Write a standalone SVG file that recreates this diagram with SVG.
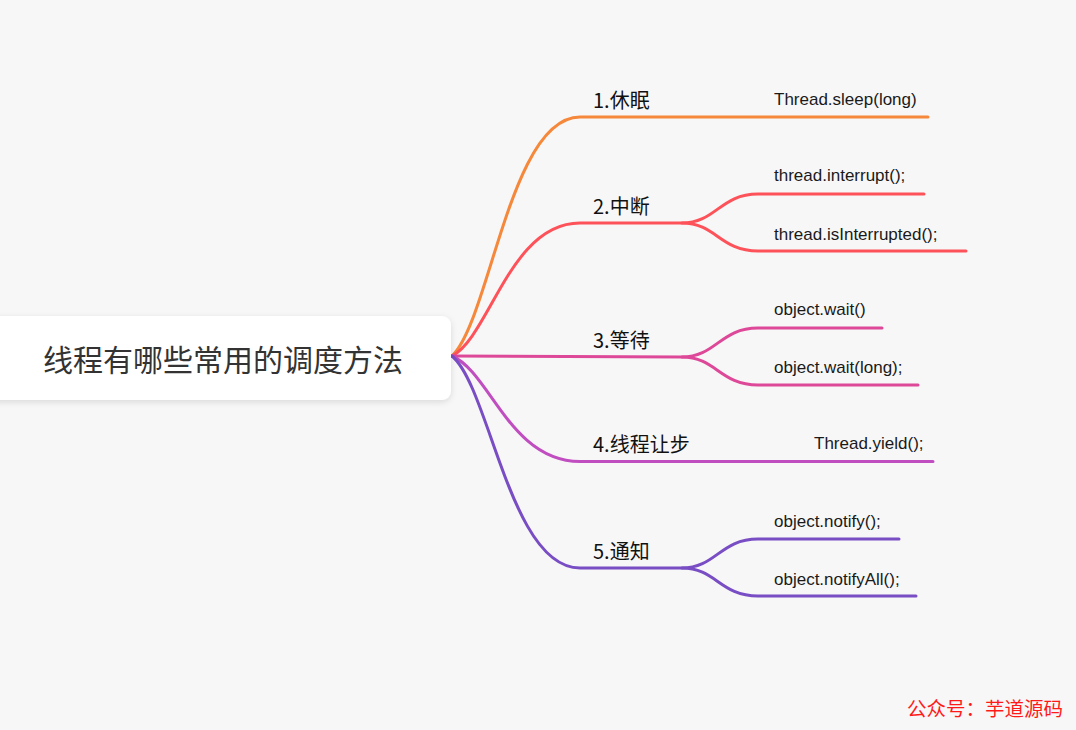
<svg xmlns="http://www.w3.org/2000/svg" width="1076" height="730" viewBox="0 0 1076 730">
  <defs>
    <filter id="shadow" x="-10%" y="-20%" width="120%" height="150%">
      <feDropShadow dx="0" dy="2" stdDeviation="3" flood-color="#000" flood-opacity="0.12"/>
    </filter>
  </defs>
  <style>
    .link { fill: none; stroke-width: 3; stroke-linecap: round; }
    .b1 { stroke: #f5883a; }
    .b2 { stroke: #fe525a; }
    .b3 { stroke: #de4898; }
    .b4 { stroke: #c04ec0; }
    .b5 { stroke: #794dc4; }
    .topic { font-family: "Noto Sans CJK SC", "Noto Sans", sans-serif; font-size: 20px; fill: #111; }
    .sub { font-family: "Liberation Sans", Arial, sans-serif; font-size: 17px; fill: #1a1a1a; }
    .root-text { font-family: "Noto Sans CJK SC", "Noto Sans", sans-serif; font-size: 30px; fill: #333; }
    .mark { font-family: "Noto Sans CJK SC", sans-serif; font-size: 19.5px; fill: #ff1a1a; }
  </style>
  <rect width="1076" height="730" fill="#f7f7f7"/>

  <g id="connectors">
    <!-- branch 1 -->
    <path class="link b1" d="M452,356 C490,320 510,117 580,117 L928,117"/>
    <!-- branch 2 -->
    <path class="link b2" d="M452,356 C490,336 510,223 580,223 L682,223 C716,223 720,194 758,194 L924,194"/>
    <path class="link b2" d="M682,223 C716,223 720,251 758,251 L966,251"/>
    <!-- branch 3 -->
    <path class="link b3" d="M452,356 L682,357 C716,357 720,328 758,328 L882,328"/>
    <path class="link b3" d="M682,357 C716,357 720,385 758,385 L918,385"/>
    <!-- branch 4 -->
    <path class="link b4" d="M452,356 C490,372 510,461.5 580,461.5 L933,461.5"/>
    <!-- branch 5 -->
    <path class="link b5" d="M452,356 C490,388 510,568 580,568 L682,568 C716,568 720,539 758,539 L899,539"/>
    <path class="link b5" d="M682,568 C716,568 720,596 758,596 L916,596"/>
  </g>

  <g id="root">
    <rect x="-12" y="316" width="463" height="84" rx="9" ry="9" fill="#ffffff" filter="url(#shadow)"/>
    <text class="root-text" x="223" y="371" text-anchor="middle">线程有哪些常用的调度方法</text>
  </g>

  <g id="node-1">
    <text class="topic" x="593" y="108">1.休眠</text>
  </g>
  <g id="node-1-1">
    <text class="sub" x="774" y="105">Thread.sleep(long)</text>
  </g>

  <g id="node-2">
    <text class="topic" x="593" y="214">2.中断</text>
  </g>
  <g id="node-2-1">
    <text class="sub" x="774" y="181">thread.interrupt();</text>
  </g>
  <g id="node-2-2">
    <text class="sub" x="774" y="240">thread.isInterrupted();</text>
  </g>

  <g id="node-3">
    <text class="topic" x="593" y="348">3.等待</text>
  </g>
  <g id="node-3-1">
    <text class="sub" x="774" y="315">object.wait()</text>
  </g>
  <g id="node-3-2">
    <text class="sub" x="774" y="373">object.wait(long);</text>
  </g>

  <g id="node-4">
    <text class="topic" x="593" y="452">4.线程让步</text>
  </g>
  <g id="node-4-1">
    <text class="sub" x="814" y="449">Thread.yield();</text>
  </g>

  <g id="node-5">
    <text class="topic" x="593" y="559">5.通知</text>
  </g>
  <g id="node-5-1">
    <text class="sub" x="774" y="527">object.notify();</text>
  </g>
  <g id="node-5-2">
    <text class="sub" x="774" y="585">object.notifyAll();</text>
  </g>

  <text class="mark" x="907" y="716">公众号：芋道源码</text>
</svg>
